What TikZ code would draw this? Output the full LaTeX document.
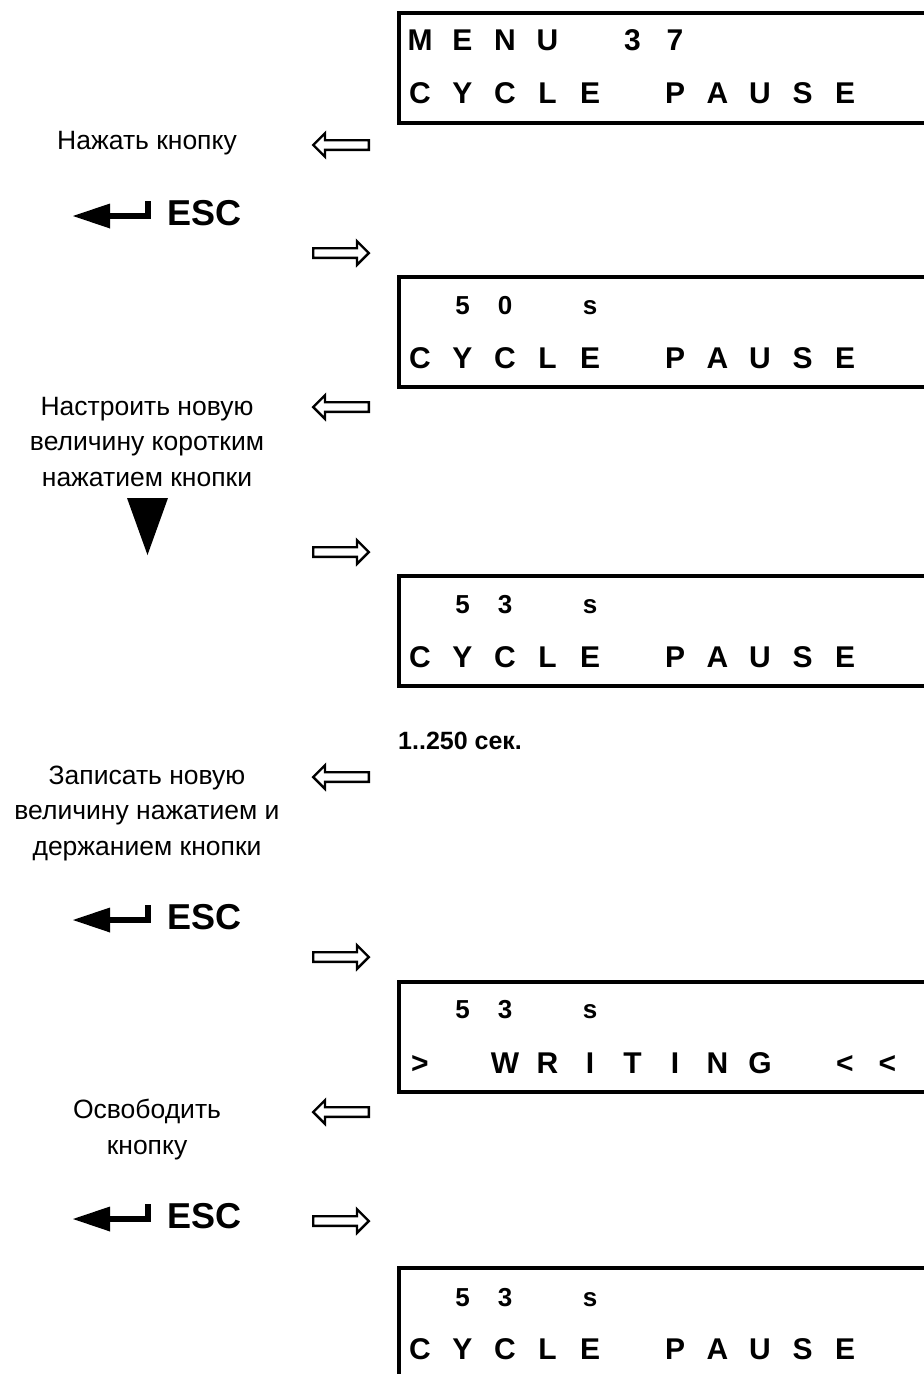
\documentclass[tikz,border=0pt]{standalone}
\usepackage{fontspec}
\setmainfont{Liberation Sans}
\tikzset{
  lcdbig/.style={font=\bfseries\fontsize{30}{32}\selectfont, anchor=base, inner sep=0pt},
  lcdsmall/.style={font=\bfseries\fontsize{26}{28}\selectfont, anchor=base, inner sep=0pt},
  lbl/.style={font=\fontsize{26.5}{35.5}\selectfont, align=center, inner sep=0pt},
  esctext/.style={font=\bfseries\fontsize{36}{40}\selectfont, anchor=base west, inner sep=0pt},
  rangetext/.style={font=\bfseries\fontsize{25}{28}\selectfont, anchor=base west, inner sep=0pt},
  lcdframe/.style={line width=4pt, line cap=butt, line join=miter},
  hollow/.style={draw=black, fill=white, line width=2.4pt, line join=miter},
  arrright/.pic={\path[hollow] (313.2,-4.8) -- (357,-4.8) -- (357,-11.8) -- (368.8,0) -- (357,11.8) -- (357,4.8) -- (313.2,4.8) -- cycle;},
  arrleft/.pic={\path[hollow] (368.8,-4.8) -- (325,-4.8) -- (325,-11.8) -- (313.2,0) -- (325,11.8) -- (325,4.8) -- (368.8,4.8) -- cycle;},
  enterkey/.pic={\fill (73,0) -- (110,-12.5) -- (110,12.5) -- cycle;
                 \fill (108,-3) rectangle (151,3);
                 \fill (145,-15) rectangle (151,3);},
}
\newcommand\lcdframebox[1]{\draw[lcdframe] (924,#1) -- (399,#1) -- (399,{#1+110}) -- (924,{#1+110});}
\begin{document}
\begin{tikzpicture}[x=1pt,y=-1pt]
\useasboundingbox (0,0) rectangle (924,1374);
\fill[white] (0,0) rectangle (924,1374);

% ---------- box 1 ----------
\lcdframebox{13}
\foreach \c/\ch in {0/M,1/E,2/N,3/U,5/3,6/7}
  \node[lcdbig] (bA\c) at ({420+42.5*\c},50) {\ch};
\foreach \c/\ch in {0/C,1/Y,2/C,3/L,4/E,6/P,7/A,8/U,9/S,10/E}
  \node[lcdbig] (bB\c) at ({420+42.5*\c},103) {\ch};

\node[lbl] (t1) at (147,143) {Нажать кнопку};
\pic at (0,145) {arrleft};
\pic at (0,216) {enterkey};
\node[esctext] (esc1) at (167,225.5) {ESC};
\pic at (0,253) {arrright};

% ---------- box 2 ----------
\lcdframebox{277}
\foreach \c/\ch in {1/5,2/0,4/s}
  \node[lcdsmall] (bC\c) at ({420+42.5*\c},314) {\ch};
\foreach \c/\ch in {0/C,1/Y,2/C,3/L,4/E,6/P,7/A,8/U,9/S,10/E}
  \node[lcdbig] (bD\c) at ({420+42.5*\c},368) {\ch};

\node[lbl] (t2) at (147,442) {Настроить новую\\величину коротким\\нажатием кнопки};
\pic at (0,407) {arrleft};
\fill (127,498) -- (168,498) -- (147.5,555) -- cycle;
\pic at (0,552) {arrright};

% ---------- box 3 ----------
\lcdframebox{576}
\foreach \c/\ch in {1/5,2/3,4/s}
  \node[lcdsmall] (bE\c) at ({420+42.5*\c},613) {\ch};
\foreach \c/\ch in {0/C,1/Y,2/C,3/L,4/E,6/P,7/A,8/U,9/S,10/E}
  \node[lcdbig] (bF\c) at ({420+42.5*\c},667) {\ch};

\node[rangetext] (range) at (398,749) {1..250 сек.};

\node[lbl] (t3) at (147,813) {Записать новую\\величину нажатием и\\держанием кнопки};
\pic at (0,777) {arrleft};
\pic at (0,920) {enterkey};
\node[esctext] (esc2) at (167,929.5) {ESC};
\pic at (0,957) {arrright};

% ---------- box 4 ----------
\lcdframebox{982}
\foreach \c/\ch in {1/5,2/3,4/s}
  \node[lcdsmall] (bG\c) at ({420+42.5*\c},1018) {\ch};
\foreach \c/\ch in {0/>,2/W,3/R,4/I,5/T,6/I,7/N,8/G,10/<,11/<}
  \node[lcdbig] (bH\c) at ({420+42.5*\c},1073) {\ch};

\node[lbl] (t4) at (147,1129.5) {Освободить\\кнопку};
\pic at (0,1112) {arrleft};
\pic at (0,1219) {enterkey};
\node[esctext] (esc3) at (167,1228.5) {ESC};
\pic at (0,1221) {arrright};

% ---------- box 5 ----------
\draw[lcdframe] (924,1268) -- (399,1268) -- (399,1380);
\foreach \c/\ch in {1/5,2/3,4/s}
  \node[lcdsmall] (bI\c) at ({420+42.5*\c},1306) {\ch};
\foreach \c/\ch in {0/C,1/Y,2/C,3/L,4/E,6/P,7/A,8/U,9/S,10/E}
  \node[lcdbig] (bJ\c) at ({420+42.5*\c},1359) {\ch};
\end{tikzpicture}
\end{document}
